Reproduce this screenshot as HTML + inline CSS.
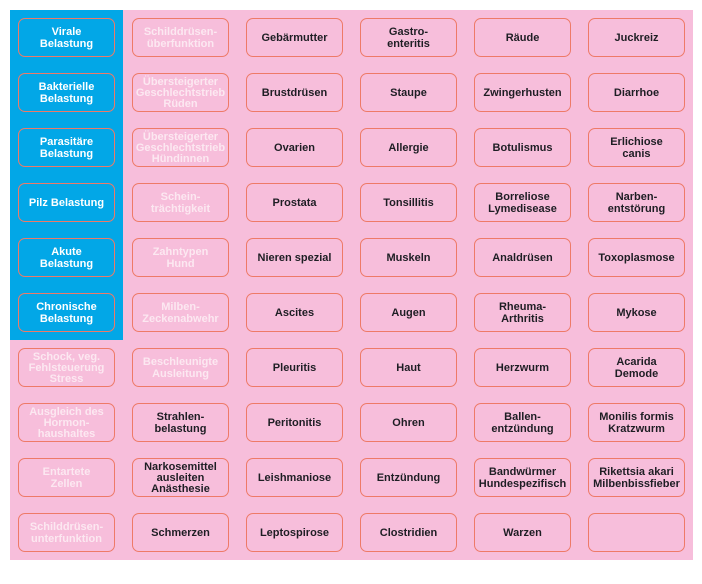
<!DOCTYPE html>
<html><head><meta charset="utf-8"><style>
body{margin:0;width:702px;height:584px;background:#fff;position:relative;overflow:hidden;font-family:"Liberation Sans",Arial,sans-serif}
#pink{position:absolute;left:10px;top:10px;width:683px;height:550px;background:#f7bedb}
#blue{position:absolute;left:10px;top:10px;width:113px;height:330px;background:#02a7e7}
#g{position:absolute;left:18px;top:18px;display:grid;grid-template-columns:repeat(6,97px);grid-auto-rows:39px;column-gap:17px;row-gap:16px}
#g div{box-sizing:border-box;border:1.5px solid #ee7a68;border-radius:7px;display:flex;align-items:center;justify-content:center;text-align:center;font-weight:bold;font-size:11px;line-height:11.3px;color:#1e1e24;padding-top:2px}
#g div.w{color:#fff}
#g div.l{color:#fce8f1}
</style></head><body>
<div id="pink"></div><div id="blue"></div>
<div id="g">
<div class="w">Virale<br>Belastung</div><div class="l">Schilddrüsen-<br>überfunktion</div><div>Gebärmutter</div><div>Gastro-<br>enteritis</div><div>Räude</div><div>Juckreiz</div>
<div class="w">Bakterielle<br>Belastung</div><div class="l">Übersteigerter<br>Geschlechtstrieb<br>Rüden</div><div>Brustdrüsen</div><div>Staupe</div><div>Zwingerhusten</div><div>Diarrhoe</div>
<div class="w">Parasitäre<br>Belastung</div><div class="l">Übersteigerter<br>Geschlechtstrieb<br>Hündinnen</div><div>Ovarien</div><div>Allergie</div><div>Botulismus</div><div>Erlichiose<br>canis</div>
<div class="w">Pilz Belastung</div><div class="l">Schein-<br>trächtigkeit</div><div>Prostata</div><div>Tonsillitis</div><div>Borreliose<br>Lymedisease</div><div>Narben-<br>entstörung</div>
<div class="w">Akute<br>Belastung</div><div class="l">Zahntypen<br>Hund</div><div>Nieren spezial</div><div>Muskeln</div><div>Analdrüsen</div><div>Toxoplasmose</div>
<div class="w">Chronische<br>Belastung</div><div class="l">Milben-<br>Zeckenabwehr</div><div>Ascites</div><div>Augen</div><div>Rheuma-<br>Arthritis</div><div>Mykose</div>
<div class="l">Schock, veg.<br>Fehlsteuerung<br>Stress</div><div class="l">Beschleunigte<br>Ausleitung</div><div>Pleuritis</div><div>Haut</div><div>Herzwurm</div><div>Acarida<br>Demode</div>
<div class="l">Ausgleich des<br>Hormon-<br>haushaltes</div><div>Strahlen-<br>belastung</div><div>Peritonitis</div><div>Ohren</div><div>Ballen-<br>entzündung</div><div>Monilis formis<br>Kratzwurm</div>
<div class="l">Entartete<br>Zellen</div><div>Narkosemittel<br>ausleiten<br>Anästhesie</div><div>Leishmaniose</div><div>Entzündung</div><div>Bandwürmer<br>Hundespezifisch</div><div>Rikettsia akari<br>Milbenbissfieber</div>
<div class="l">Schilddrüsen-<br>unterfunktion</div><div>Schmerzen</div><div>Leptospirose</div><div>Clostridien</div><div>Warzen</div><div></div>
</div>
</body></html>
